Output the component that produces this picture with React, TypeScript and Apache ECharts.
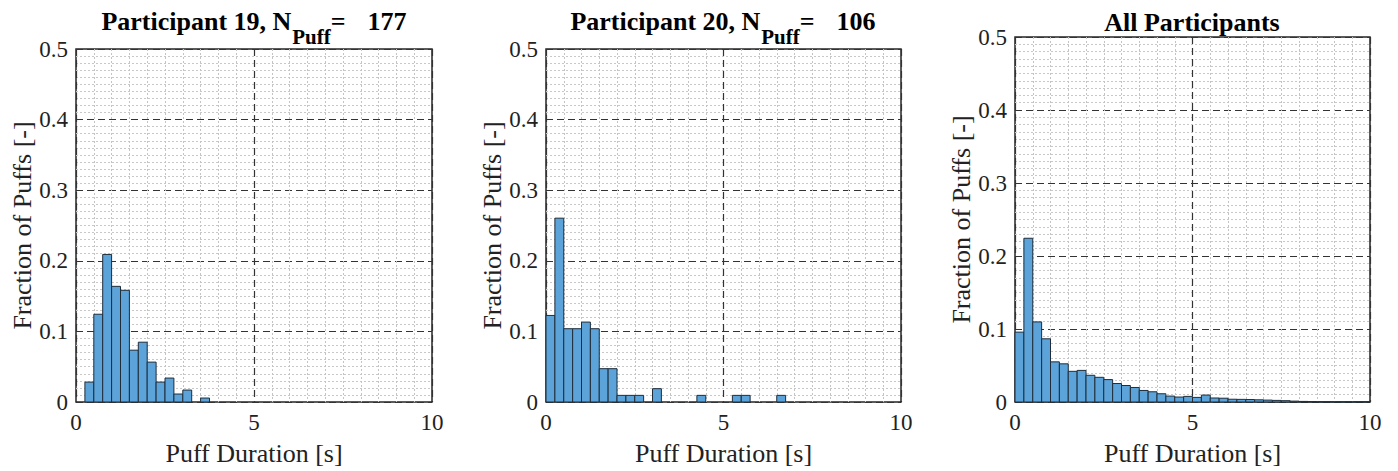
import React, { useEffect, useRef } from "react";
import * as echarts from "echarts";

// Histogram bins: width 0.25 s, first bin starts at 0 s.
const BIN_WIDTH = 0.25;

// Fraction of puffs per bin, participant 19 (N = 177)
const p19Fractions = [
  0, 0.0282, 0.1243, 0.209, 0.1638, 0.1582, 0.0734, 0.0847, 0.0565, 0.0282,
  0.0339, 0.0113, 0.0169, 0, 0.0056,
];

// Fraction of puffs per bin, participant 20 (N = 106)
const p20Fractions = [
  0.1226, 0.2604, 0.1038, 0.1038, 0.1132, 0.1038, 0.0472, 0.0472, 0.0094, 0.0094,
  0.0094, 0, 0.0189, 0, 0, 0, 0, 0.0094, 0, 0,
  0, 0.0094, 0.0094, 0, 0, 0, 0.0094,
];

// Fraction of puffs per bin, all participants
const allFractions = [
  0.0957, 0.2243, 0.1097, 0.0866, 0.055, 0.0523, 0.042, 0.0433, 0.0366, 0.0338,
  0.0307, 0.0253, 0.0226, 0.0199, 0.0158, 0.014, 0.0113, 0.0081, 0.0068, 0.0077,
  0.0063, 0.0095, 0.0055, 0.0052, 0.0038, 0.0036, 0.0034, 0.003, 0.0026, 0.0022,
  0.0018, 0.0012, 0.0008, 0.0005, 0.0003, 0.0003, 0.0002, 0.0002, 0.0002, 0.0002,
];

const xTicks = [0, 5, 10];
const yTicks = [0, 0.1, 0.2, 0.3, 0.4, 0.5];

const FONT = "Liberation Serif";
const TEXT_COLOR = "#222";
const BAR_FILL = "#5ba3d9";
const BAR_EDGE = "#1f2d3a";

type Panel = {
  left: number;
  top: number;
  width: number;
  height: number;
  fractions: number[];
};

const panels: Panel[] = [
  { left: 76, top: 49, width: 356, height: 357, fractions: p19Fractions },
  { left: 546, top: 49, width: 355, height: 357, fractions: p20Fractions },
  { left: 1015, top: 37, width: 355, height: 369, fractions: allFractions },
];

function binsOf(fractions: number[]) {
  const rows: number[][] = [];
  fractions.forEach((v, i) => {
    if (v > 0) rows.push([i * BIN_WIDTH, (i + 1) * BIN_WIDTH, v]);
  });
  return rows;
}

// Tick labels go through a rich style so the serif face is applied to them.
const tickLabel = (margin: number) => ({
  margin,
  color: TEXT_COLOR,
  fontFamily: FONT,
  fontSize: 23,
  formatter: (v: number) => `{t|${Number(v.toFixed(2))}}`,
  rich: {
    t: { fontFamily: FONT, fontSize: 23, color: TEXT_COLOR },
  },
});

function buildOption() {
  const grid = panels.map((p) => ({
    left: p.left,
    top: p.top,
    width: p.width,
    height: p.height,
    show: true,
    borderColor: "#262626",
    borderWidth: 1.5,
    backgroundColor: "#ffffff",
  }));

  const majorLine = { color: "#333333", width: 1.2, type: [7, 4] };

  const xAxis = panels.map((_, i) => ({
    type: "value",
    gridIndex: i,
    min: xTicks[0],
    max: xTicks[xTicks.length - 1],
    interval: 5,
    name: "Puff Duration [s]",
    nameLocation: "middle",
    nameGap: 38,
    nameTextStyle: { fontFamily: FONT, fontSize: 26, color: TEXT_COLOR },
    axisLine: { show: false },
    axisTick: { show: false },
    axisLabel: tickLabel(9),
    splitLine: { show: true, lineStyle: majorLine },
    minorTick: { show: false, splitNumber: 10 },
    minorSplitLine: {
      show: true,
      lineStyle: { color: "#c4c4c4", width: 1, type: [2, 2] },
    },
  }));

  const yAxis = panels.map((_, i) => ({
    type: "value",
    gridIndex: i,
    min: yTicks[0],
    max: yTicks[yTicks.length - 1],
    interval: 0.1,
    name: "Fraction of Puffs [-]",
    nameLocation: "middle",
    nameGap: 40,
    nameTextStyle: { fontFamily: FONT, fontSize: 26, color: TEXT_COLOR },
    axisLine: { show: false },
    axisTick: { show: false },
    axisLabel: tickLabel(8),
    splitLine: { show: true, lineStyle: majorLine },
    minorTick: { show: false, splitNumber: 10 },
    minorSplitLine: {
      show: true,
      lineStyle: { color: "#c8c8c8", width: 1, type: [2, 2] },
    },
  }));

  const series = panels.map((p, i) => ({
    type: "custom",
    xAxisIndex: i,
    yAxisIndex: i,
    data: binsOf(p.fractions),
    renderItem: (_params: any, api: any) => {
      const topLeft = api.coord([api.value(0), api.value(2)]);
      const bottomRight = api.coord([api.value(1), 0]);
      return {
        type: "rect",
        shape: {
          x: topLeft[0],
          y: topLeft[1],
          width: bottomRight[0] - topLeft[0],
          height: bottomRight[1] - topLeft[1],
        },
        style: { fill: BAR_FILL, stroke: BAR_EDGE, lineWidth: 1 },
      };
    },
  }));

  const titleRich = {
    b: {
      fontFamily: FONT,
      fontSize: 26,
      fontWeight: "bold",
      color: "#111",
      lineHeight: 30,
      verticalAlign: "top",
    },
    s: {
      fontFamily: FONT,
      fontSize: 21,
      fontWeight: "bold",
      color: "#111",
      lineHeight: 21,
      padding: [18, 0, 0, 1],
      verticalAlign: "top",
    },
    n: {
      fontFamily: FONT,
      fontSize: 26,
      fontWeight: "bold",
      color: "#111",
      lineHeight: 30,
      padding: [0, 0, 0, 22],
      verticalAlign: "top",
    },
  };

  const titleAt = (x: number, y: number, text: string) => ({
    type: "text",
    x,
    y,
    style: { text, rich: titleRich, align: "center", verticalAlign: "top" },
  });

  const graphic = [
    titleAt(254, 8, "{b|Participant 19, N}{s|Puff}{b|=}{n|177}"),
    titleAt(723, 8, "{b|Participant 20, N}{s|Puff}{b|=}{n|106}"),
    titleAt(1192, 9, "{b|All Participants}"),
  ];

  return {
    animation: false,
    backgroundColor: "#ffffff",
    textStyle: { fontFamily: FONT },
    grid,
    xAxis,
    yAxis,
    series,
    graphic,
  };
}

export default function App() {
  const ref = useRef<HTMLDivElement>(null);

  useEffect(() => {
    if (!ref.current) return;
    const chart = echarts.init(ref.current, undefined, { renderer: "svg" });
    chart.setOption(buildOption() as any);
    return () => chart.dispose();
  }, []);

  return (
    <div
      ref={ref}
      style={{
        position: "fixed",
        left: 0,
        top: 0,
        width: 1398,
        height: 471,
        background: "#ffffff",
      }}
    />
  );
}
